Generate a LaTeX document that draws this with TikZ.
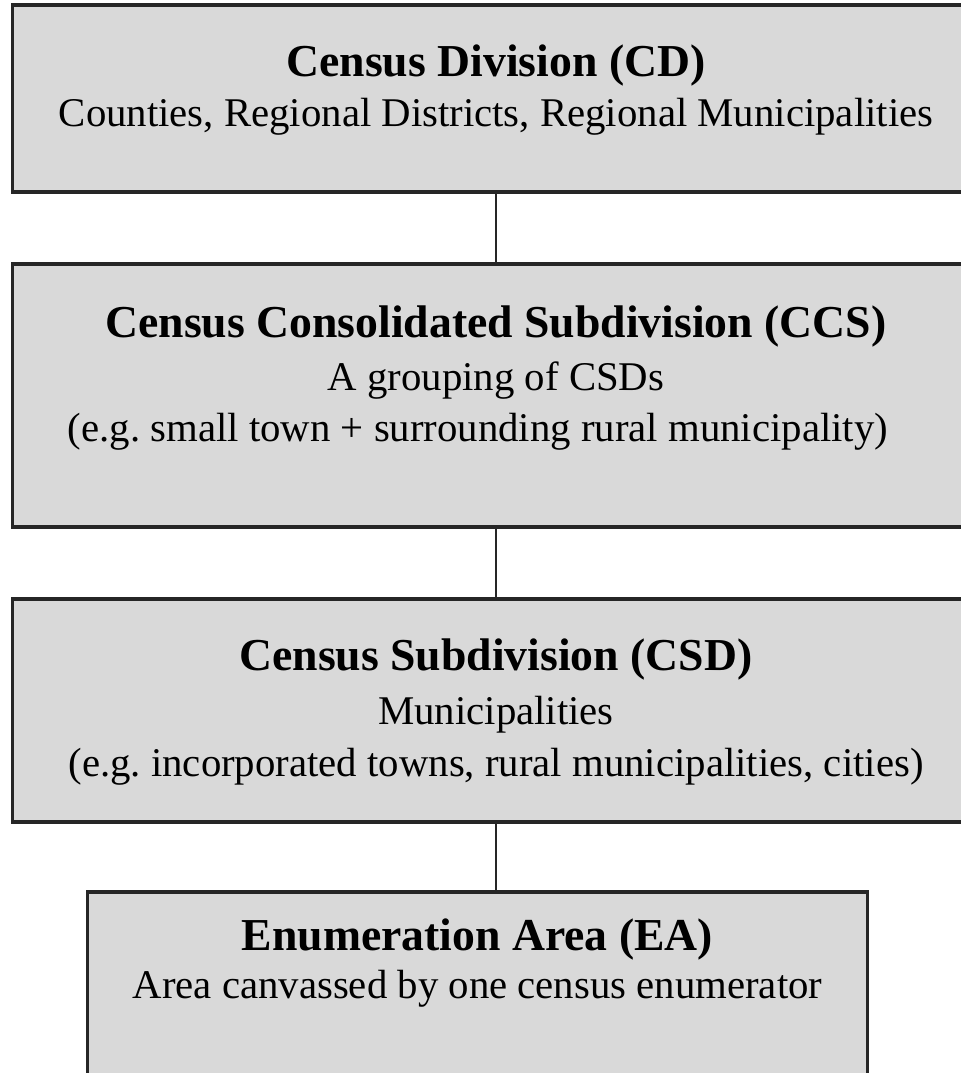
\documentclass[tikz,border=0pt]{standalone}
\usepackage{fontspec}
\setmainfont{Liberation Serif}
\usetikzlibrary{positioning}
\frenchspacing

\tikzset{
    level/.style={draw=black!85, line width=2.2pt, fill={rgb,255:red,217;green,217;blue,217}, rectangle, inner sep=0pt},
    title/.style={anchor=base, inner sep=0pt, font=\fontsize{32.5}{36}\selectfont\bfseries},
    sub/.style={anchor=base, inner sep=0pt, font=\fontsize{29}{34}\selectfont},
    link/.style={draw=black!85, line width=1.6pt}
}

\begin{document}
\begin{tikzpicture}[x=0.025cm, y=-0.025cm]
        \useasboundingbox (0,0) rectangle (961,1073);
        \clip (0,0) rectangle (961,1073);
        
        % boxes
        \node[level, minimum width=24.15cm, minimum height=4.675cm] (cd) at (496,98.5) {};
        \node[level, minimum width=24.15cm, minimum height=6.575cm] (ccs) at (496,395.5) {};
        \node[level, minimum width=24.15cm, minimum height=5.575cm] (csd) at (496,710.5) {};
        \node[level, minimum width=19.475cm, minimum height=5.45cm] (ea) at (477.5,1001) {};
        
        % connectors
        \draw[link] (cd.south) -- (ccs.north);
        \draw[link] (ccs.south) -- (csd.north);
        \draw[link] (csd.south) -- (csd.south |- ea.north);
        
        % texts
        \node[title] (cdT) at (496,76) {Census Division (CD)};
        \node[sub] (cdA) at (496,126) {Counties, Regional Districts, Regional Municipalities};
        
        \node[title] (ccsT) at (496,337) {Census Consolidated Subdivision (CCS)};
        \node[sub] (ccsA) at (496,390) {A grouping of CSDs};
        \node[sub] (ccsB) at (478,441) {(e.g. small town + surrounding rural municipality)};
        
        \node[title] (csdT) at (496,670) {Census Subdivision (CSD)};
        \node[sub] (csdA) at (496,724) {Municipalities};
        \node[sub] (csdB) at (496,776) {(e.g. incorporated towns, rural municipalities, cities)};
        
        \node[title] (eaT) at (477.5,950) {Enumeration Area (EA)};
        \node[sub] (eaA) at (477.5,998) {Area canvassed by one census enumerator};
        
    \end{tikzpicture}
\end{document}
